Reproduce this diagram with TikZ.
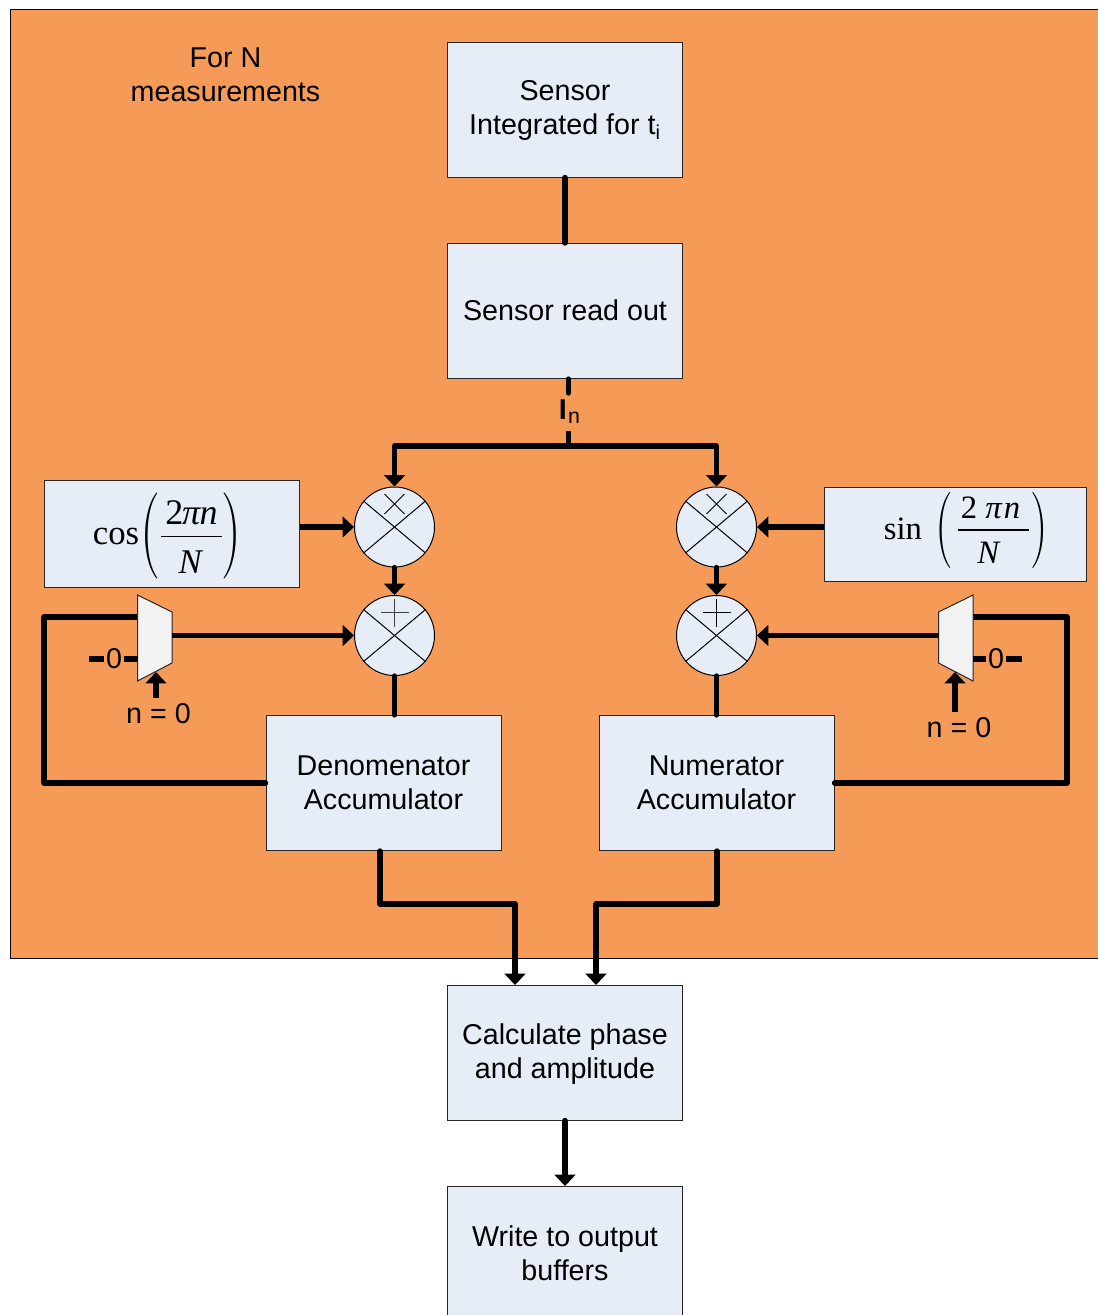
\documentclass[tikz,border=0pt]{standalone}
\usepackage{graphicx}
\usepackage{fontspec}
\setmainfont{Liberation Sans}
\newfontfamily\serf{Liberation Serif}
\usetikzlibrary{arrows.meta}
\definecolor{bgorange}{RGB}{246,155,87}
\definecolor{boxblue}{RGB}{230,237,247}
\definecolor{muxgray}{RGB}{242,242,242}
\newcommand{\tallparen}[3]{\scalebox{#1}[#2]{\fontsize{26pt}{26pt}\selectfont$#3$}}
\newcommand{\vshift}[3]{\raisebox{#1}[\height][\depth]{\begin{tabular}{@{}c@{}}#2\\#3\end{tabular}}}
\tikzset{
  bx/.style={draw=black!85,fill=boxblue,line width=.75pt,inner sep=0pt,minimum width=176.25pt,minimum height=101.25pt,align=center},
  mixer/.style={circle,draw=black,fill=boxblue,line width=.75pt,inner sep=0pt,minimum size=60pt},
  thin line/.style={line width=.75pt},
  wire/.style={line width=4pt,line cap=round,line join=round},
  awire/.style={wire,-{Triangle[length=8.5pt,width=15.5pt]}},
  lbl/.style={inner sep=0pt,align=center},
  frm/.style={lbl,font=\serf\fontsize{26pt}{30pt}\selectfont},
  frs/.style={lbl,font=\serf\fontsize{24.5pt}{30pt}\selectfont},
  mx/.style={draw=black!85,fill=muxgray,line width=.75pt}
}
\begin{document}
\begin{tikzpicture}[x=0.75pt,y=-0.75pt,font=\fontsize{21.5pt}{25.6pt}\selectfont]
\useasboundingbox (0,0) rectangle (1098,1315);
\clip (0,0) rectangle (1098,1315);
\path[fill=bgorange,draw=black,line width=.75pt] (10.5,9) rectangle (1110,958);
\node[lbl] (title) at (225.5,74.5) {For N\\measurements};
\node[bx] (sensor) at (565,109.5) {\vshift{-1.1pt}{Sensor}{Integrated for t\textsubscript{i}}};
\node[bx] (readout) at (565,311) {\raisebox{1.5pt}{Sensor read out}};
\node[bx] (den) at (383.5,783) {Denomenator\\Accumulator};
\node[bx] (num) at (716.5,783) {Numerator\\Accumulator};
\node[bx] (calc) at (565,1052.5) {\vshift{-1.5pt}{Calculate phase}{and amplitude}};
\node[bx] (out) at (565,1254) {\vshift{-2.25pt}{Write to output}{buffers}};
\node[bx,minimum width=191.25pt,minimum height=80.25pt] (cosb) at (171.5,533.5) {};
\node[bx,minimum width=196.5pt,minimum height=70.5pt] (sinb) at (955,534) {};
% formula cos
\node[frm] (cost) at (116,536.5) {cos};
\node[lbl] (cosl) at (150.5,536) {\tallparen{1.7}{2.6}{(}};
\node[lbl] (cosr) at (231,536) {\tallparen{1.7}{2.6}{)}};
\node[frm,font=\serf\fontsize{27pt}{30pt}\selectfont] (cosn) at (191.5,513) {2\kern-1pt\textit{π}\kern-1pt\textit{n}};
\node[frm] (cosd) at (191,562) {\textit{N}};
\draw[line width=1pt] (161,536.5) -- (222,536.5);
% formula sin
\node[frs] (sint) at (903,529) {sin};
\node[lbl] (sinl) at (944,530.5) {\tallparen{1.5}{2.3}{(}};
\node[lbl] (sinr) at (1039.5,530.5) {\tallparen{1.5}{2.3}{)}};
\node[frs] (sinn) at (990.5,508) {2 \textit{π}\kern1pt\textit{n}};
\node[frs] (sind) at (989,553) {\textit{N}};
\draw[line width=1pt] (958,530) -- (1029,530);
% mixers
\node[mixer] (ml) at (394.5,527) {};
\node[mixer] (al) at (394.5,635.5) {};
\node[mixer] (mr) at (716.5,527) {};
\node[mixer] (ar) at (716.5,635.5) {};
\foreach \c in {ml,al,mr,ar}{
  \draw[thin line] (\c.40) -- (\c.220);
  \draw[thin line] (\c.140) -- (\c.320);
}
\draw[thin line] ([shift={(-10,-33)}]ml.center) -- ([shift={(10,-13)}]ml.center);
\draw[thin line] ([shift={(10,-33)}]ml.center) -- ([shift={(-10,-13)}]ml.center);
\draw[thin line] ([shift={(-10,-33)}]mr.center) -- ([shift={(10,-13)}]mr.center);
\draw[thin line] ([shift={(10,-33)}]mr.center) -- ([shift={(-10,-13)}]mr.center);
\draw[thin line,black!75] ([shift={(-14,-23)}]al.center) -- ([shift={(14,-23)}]al.center);
\draw[thin line,black!75] ([shift={(0,-37)}]al.center) -- ([shift={(0,-9)}]al.center);
\draw[thin line] ([shift={(-14,-23)}]ar.center) -- ([shift={(14,-23)}]ar.center);
\draw[thin line] ([shift={(0,-37)}]ar.center) -- ([shift={(0,-9)}]ar.center);
% muxes
\coordinate (lma) at (137.5,595);
\coordinate (lmb) at (172,612);
\coordinate (lmc) at (172,663);
\coordinate (lmd) at (137.5,681);
\coordinate (rma) at (973,595);
\coordinate (rmb) at (938.5,612);
\coordinate (rmc) at (938.5,663);
\coordinate (rmd) at (973,681);
\coordinate (lmt) at (137.5,617);
\coordinate (rmt) at (973,617);
\coordinate (lmz) at (137.5,659);
\coordinate (rmz) at (973,659);
\coordinate (lmn) at (156,672);
\coordinate (rmn) at (955,672);
\coordinate (lfb) at (44,617);
\coordinate (lfc) at (44,783);
\coordinate (rfb) at (1067,617);
\coordinate (rfc) at (1067,783);
\draw[wire] (lmt) -- (lfb) -- (lfc) -- (den.west |- lfc);
\draw[wire] (rmt) -- (rfb) -- (rfc) -- (num.east |- rfc);
\draw[mx] (lma) -- (lmb) -- (lmc) -- (lmd) -- cycle;
\draw[mx] (rma) -- (rmb) -- (rmc) -- (rmd) -- cycle;
% zero inputs
\node[lbl] (zl) at (114,659) {0};
\node[lbl] (zr) at (996,659) {0};
\coordinate (zle) at (89,659);
\coordinate (zre) at (1022,659);
\draw[wire,line cap=butt] (lmz) -- ([xshift=1pt]zl.east |- lmz);
\draw[wire,line cap=butt] ([xshift=-1pt]zl.west |- zle) -- (zle);
\draw[wire,line cap=butt] (rmz) -- ([xshift=-1pt]zr.west |- rmz);
\draw[wire,line cap=butt] ([xshift=1pt]zr.east |- zre) -- (zre);
% n = 0
\node[lbl] (nl) at (158.5,714) {n = 0};
\node[lbl] (nr) at (959,728) {n = 0};
\coordinate (nls) at (156,698);
\coordinate (nrs) at (955,712);
\draw[awire,line cap=butt] (nls) -- (lmn);
\draw[awire,line cap=butt] (nrs) -- (rmn);
% main connectors
\draw[wire] (sensor.south) -- (readout.north);
\node[lbl] (in) at (569.5,412) {\textbf{I}\kern1pt\raisebox{-3pt}{\fontsize{16pt}{18pt}\selectfont n}};
\coordinate (iu) at (568.5,379);
\coordinate (iv) at (568.5,393);
\coordinate (iw) at (568.5,431);
\coordinate (bus) at (568.5,446);
\draw[wire] (iu) -- (iv);
\draw[wire,line cap=butt] (iw) -- (bus);
\draw[awire] (bus) -| (ml.north);
\draw[awire] (bus) -| (mr.north);
\draw[awire,line cap=butt] (cosb.east |- ml) -- (ml.west);
\draw[awire,line cap=butt] (sinb.west |- mr) -- (mr.east);
\draw[awire] (ml.south) -- (al.north);
\draw[awire] (mr.south) -- (ar.north);
\draw[awire,line cap=butt] (lmb |- al) -- (al.west);
\draw[awire,line cap=butt] (rmb |- ar) -- (ar.east);
\draw[wire] (al.south) -- (al.south |- den.north);
\draw[wire] (ar.south) -- (ar.south |- num.north);
\coordinate (dj) at (380,904);
\coordinate (nj) at (717,904);
\coordinate (cl) at (515,985);
\coordinate (cr) at (596,985);
\draw[awire] (dj |- den.south) -- (dj) -| (cl);
\draw[awire] (nj |- num.south) -- (nj) -| (cr);
\draw[awire] (calc.south) -- (out.north);
\end{tikzpicture}
\end{document}
